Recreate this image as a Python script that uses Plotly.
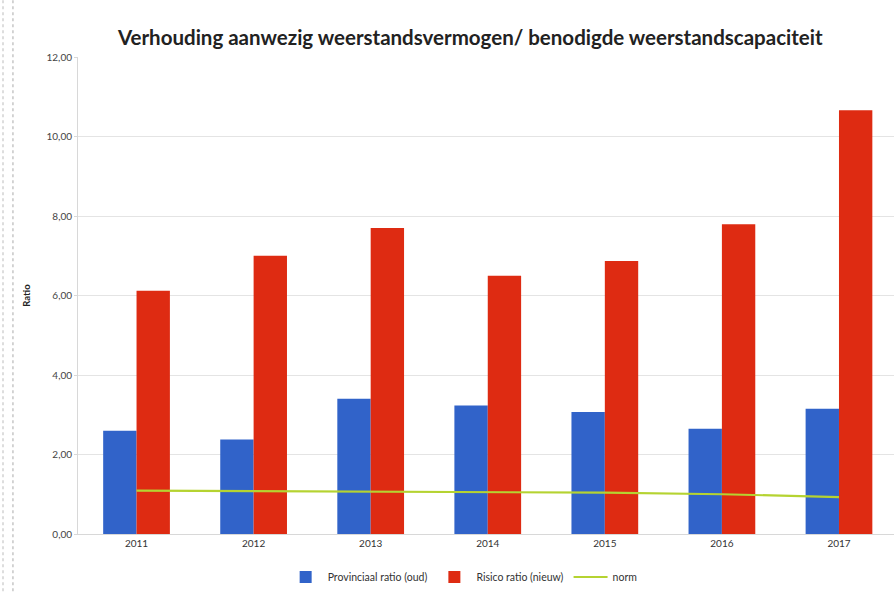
import plotly.graph_objects as go

years = ["2011", "2012", "2013", "2014", "2015", "2016", "2017"]
provinciaal_oud = [2.60, 2.38, 3.40, 3.23, 3.07, 2.65, 3.15]
risico_nieuw = [6.12, 7.00, 7.70, 6.50, 6.87, 7.79, 10.66]
norm = [1.09, 1.08, 1.07, 1.06, 1.04, 1.00, 0.93]
y_ticks = [0, 2, 4, 6, 8, 10, 12]

fig = go.Figure()
fig.add_trace(go.Bar(x=years, y=provinciaal_oud, name="Provinciaal ratio (oud)",
                     marker=dict(color="#3163c9", line=dict(width=0))))
fig.add_trace(go.Bar(x=years, y=risico_nieuw, name="Risico ratio (nieuw)",
                     marker=dict(color="#de2b12", line=dict(width=0))))
fig.add_trace(go.Scatter(x=years, y=norm, name="norm", mode="lines",
                         line=dict(color="#b5d331", width=2.2)))

fig.update_layout(
    width=894, height=593,
    margin=dict(l=78, r=0, t=57, b=59, autoexpand=False),
    paper_bgcolor="white", plot_bgcolor="white",
    separators=",.",
    barmode="group", bargap=0.43, bargroupgap=0,
    font=dict(family="Lato, Open Sans, sans-serif", color="#333"),
    title=dict(text="<b>Verhouding aanwezig weerstandsvermogen/ benodigde weerstandscapaciteit</b>",
               x=0.526, xanchor="center", y=0.937, yanchor="middle", yref="container",
               font=dict(family="Lato, sans-serif", size=20.5, color="#222")),
    legend=dict(orientation="h", x=0.472, xanchor="center", y=0.027, yanchor="middle",
                yref="container", font=dict(size=10.5, color="#333"), traceorder="normal",
                itemwidth=34),
    showlegend=True,
)
fig.update_xaxes(range=[-0.5, 6.47], showgrid=False, showline=True, linecolor="#d8d8d8",
                 linewidth=1, ticks="", tickfont=dict(size=10, color="#333"))
fig.update_yaxes(range=[0, 12], tickvals=y_ticks, tickformat=".2f", showgrid=True,
                 gridcolor="#e4e4e4", gridwidth=1, showline=True, linecolor="#d8d8d8",
                 ticks="outside", ticklen=3, tickcolor="#d8d8d8",
                 tickfont=dict(size=10, color="#444"), zeroline=False,
                 title=dict(text="<b>Ratio</b>", font=dict(size=9.5, color="#222"), standoff=14))

# scanned page frame lines on the left
fig.add_shape(type="line", xref="paper", yref="paper", x0=-0.0797, x1=-0.0797, y0=-0.12, y1=1.12,
              line=dict(color="#aaaaaa", width=1, dash="dot"))
fig.add_shape(type="line", xref="paper", yref="paper", x0=-0.0919, x1=-0.0919, y0=-0.12, y1=1.12,
              line=dict(color="#bbbbbb", width=1, dash="dot"))

fig.write_html("out.html", config={"displayModeBar": False},
               post_script="document.body.style.margin='0';document.body.style.overflow='hidden';")
